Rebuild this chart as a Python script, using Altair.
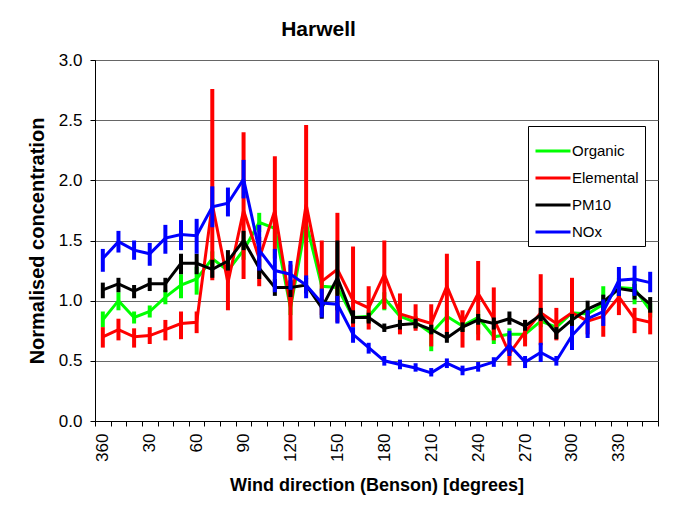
import altair as alt
import pandas as pd

FONT = "Liberation Sans"

directions = [360, 10, 20, 30, 40, 50, 60, 70, 80, 90, 100, 110, 120, 130, 140, 150, 160, 170,
              180, 190, 200, 210, 220, 230, 240, 250, 260, 270, 280, 290, 300, 310, 320, 330, 340, 350]

series_names = ["Organic", "Elemental", "PM10", "NOx"]
series_colors = ["#00FF00", "#FF0000", "#000000", "#0000FF"]

organic_mid = [0.84, 1.00, 0.86, 0.91, 1.03, 1.13, 1.18, 1.35, 1.25, 1.42, 1.65, 1.60, 0.94, 1.65, 1.12, 1.11, 0.86, 0.87,
               1.02, 0.87, 0.82, 0.73, 0.87, 0.79, 0.86, 0.70, 0.72, 0.72, 0.83, 0.78, 0.90, 0.89, 0.97, 1.11, 1.10, 0.92]
organic_lo = [0.78, 0.92, 0.81, 0.86, 0.97, 1.02, 1.05, 1.29, 1.17, 1.34, 1.57, 1.50, 0.88, 1.55, 1.06, 1.05, 0.81, 0.82,
              0.92, 0.82, 0.77, 0.58, 0.82, 0.74, 0.72, 0.64, 0.67, 0.67, 0.78, 0.73, 0.85, 0.84, 0.88, 1.03, 0.97, 0.86]
organic_hi = [0.91, 1.07, 0.91, 0.96, 1.09, 1.22, 1.28, 1.41, 1.32, 1.50, 1.73, 1.70, 1.00, 1.75, 1.18, 1.17, 0.91, 0.92,
              1.07, 0.92, 0.87, 0.80, 0.92, 0.84, 0.92, 0.76, 0.77, 0.77, 0.88, 0.83, 0.95, 0.94, 1.12, 1.19, 1.19, 0.98]

elemental_mid = [0.70, 0.76, 0.70, 0.71, 0.76, 0.81, 0.82, 1.80, 1.15, 1.75, 1.35, 1.75, 0.95, 1.80, 1.16, 1.26, 1.00, 0.94,
                 1.22, 0.89, 0.85, 0.81, 1.12, 0.81, 1.06, 0.85, 0.56, 0.74, 0.90, 0.81, 0.90, 0.83, 0.87, 1.03, 0.85, 0.82]
elemental_lo = [0.61, 0.67, 0.61, 0.64, 0.67, 0.68, 0.73, 1.17, 0.92, 1.18, 1.12, 1.35, 0.67, 1.18, 0.88, 0.82, 0.78, 0.76,
                0.93, 0.72, 0.75, 0.62, 0.69, 0.61, 0.67, 0.67, 0.46, 0.62, 0.63, 0.67, 0.62, 0.72, 0.70, 0.88, 0.73, 0.72]
elemental_hi = [0.78, 0.85, 0.77, 0.78, 0.84, 0.91, 0.91, 2.76, 1.33, 2.40, 1.53, 2.20, 1.30, 2.46, 1.50, 1.73, 1.45, 1.12,
                1.50, 1.06, 0.97, 0.97, 1.39, 0.92, 1.33, 1.11, 0.72, 0.84, 1.22, 0.94, 1.19, 0.89, 0.93, 1.12, 0.94, 0.92]

pm10_mid = [1.09, 1.14, 1.08, 1.14, 1.14, 1.31, 1.31, 1.26, 1.33, 1.50, 1.27, 1.11, 1.11, 1.13, 0.94, 1.19, 0.86, 0.86,
            0.77, 0.80, 0.81, 0.76, 0.69, 0.78, 0.84, 0.81, 0.85, 0.79, 0.88, 0.73, 0.84, 0.93, 0.99, 1.10, 1.08, 0.97]
pm10_lo = [1.02, 1.07, 1.02, 1.08, 1.07, 1.22, 1.22, 1.19, 1.25, 1.42, 1.18, 1.04, 1.03, 1.06, 0.85, 0.92, 0.81, 0.81,
           0.74, 0.76, 0.77, 0.72, 0.65, 0.74, 0.80, 0.76, 0.80, 0.75, 0.83, 0.68, 0.79, 0.84, 0.92, 1.04, 1.01, 0.90]
pm10_hi = [1.15, 1.19, 1.13, 1.19, 1.19, 1.39, 1.39, 1.34, 1.42, 1.58, 1.35, 1.18, 1.17, 1.19, 1.01, 1.50, 0.92, 0.90,
           0.81, 0.84, 0.85, 0.80, 0.74, 0.82, 0.89, 0.86, 0.91, 0.84, 0.94, 0.78, 0.89, 1.00, 1.05, 1.15, 1.14, 1.03]

nox_mid = [1.35, 1.49, 1.42, 1.39, 1.52, 1.55, 1.54, 1.78, 1.81, 2.01, 1.42, 1.25, 1.22, 1.13, 0.98, 0.97, 0.72, 0.61,
           0.50, 0.47, 0.44, 0.40, 0.48, 0.42, 0.45, 0.49, 0.63, 0.49, 0.57, 0.50, 0.71, 0.85, 0.91, 1.17, 1.18, 1.15]
nox_lo = [1.24, 1.40, 1.34, 1.29, 1.39, 1.42, 1.39, 1.61, 1.70, 1.85, 1.25, 1.07, 1.09, 1.02, 0.86, 0.81, 0.65, 0.56,
          0.46, 0.43, 0.41, 0.37, 0.44, 0.38, 0.41, 0.45, 0.54, 0.44, 0.49, 0.46, 0.59, 0.69, 0.79, 1.04, 1.04, 1.07]
nox_hi = [1.43, 1.58, 1.50, 1.48, 1.63, 1.67, 1.68, 1.95, 1.94, 2.17, 1.63, 1.43, 1.33, 1.21, 1.10, 1.04, 0.78, 0.65,
          0.54, 0.51, 0.48, 0.44, 0.52, 0.46, 0.49, 0.53, 0.75, 0.54, 0.65, 0.54, 0.79, 0.92, 1.01, 1.28, 1.29, 1.24]

y_ticks = [0.0, 0.5, 1.0, 1.5, 2.0, 2.5, 3.0]
shown_labels = [str(d) for d in directions[::3]]

series_data = {
    "Organic": (organic_mid, organic_lo, organic_hi),
    "Elemental": (elemental_mid, elemental_lo, elemental_hi),
    "PM10": (pm10_mid, pm10_lo, pm10_hi),
    "NOx": (nox_mid, nox_lo, nox_hi),
}

rows = []
for name in series_names:
    mid, lo, hi = series_data[name]
    for i, d in enumerate(directions):
        rows.append({"series": name, "idx": i, "pos": i + 0.5, "dir": d,
                     "mid": mid[i], "lo": lo[i], "hi": hi[i]})
df = pd.DataFrame(rows)

n = len(directions)
label_list = ",".join("'" + s + "'" for s in shown_labels)
label_expr = f"datum.value % 3 == 0 && datum.value < {n} ? [{label_list}][datum.value / 3] : ''"

x_enc = alt.X("pos:Q",
              scale=alt.Scale(domain=[0, n], nice=False, zero=False),
              axis=alt.Axis(values=list(range(n + 1)), labelExpr=label_expr, labelAngle=270,
                            labelAlign="right", labelBaseline="middle", labelOffset=7.8,
                            labelOverlap=False, labelFlush=False, labelPadding=7,
                            tickSize=5, grid=False,
                            title="Wind direction (Benson) [degrees]", titlePadding=15,
                            titleFontSize=18))

y_enc = alt.Y("mid:Q",
              scale=alt.Scale(domain=[0, 3], nice=False, zero=True),
              axis=alt.Axis(values=y_ticks, format=".1f", tickSize=5, labelPadding=8,
                            grid=True, gridColor="#666666", gridWidth=1,
                            title="Normalised concentration", titlePadding=11,
                            titleFontSize=20))

color_enc = alt.Color("series:N",
                      scale=alt.Scale(domain=series_names, range=series_colors),
                      legend=alt.Legend(title=None, orient="none", legendX=433, legendY=66,
                                        symbolType="stroke", symbolSize=1225, symbolStrokeWidth=3,
                                        labelFontSize=15, labelFont=FONT, labelColor="black",
                                        fillColor="white", strokeColor="black", padding=6,
                                        rowPadding=-7, labelOffset=0))

base = alt.Chart(df)
layers = []
for name in series_names:
    sub = base.transform_filter(alt.datum.series == name)
    layers.append(sub.mark_rule(strokeWidth=4).encode(
        x=x_enc, y=alt.Y("lo:Q", scale=alt.Scale(domain=[0, 3], nice=False)), y2="hi:Q", color=color_enc))
    layers.append(sub.mark_line(strokeWidth=3).encode(
        x=x_enc, y=y_enc, color=color_enc, order="idx:Q"))

chart = alt.layer(*layers).properties(
    width=563, height=361,
    autosize=alt.AutoSizeParams(type="none"),
    padding={"left": 87, "top": 52, "right": 33, "bottom": 86},
    background="white",
    title=alt.TitleParams(text="Harwell", fontSize=21, font=FONT, fontWeight="bold",
                          anchor="middle", dx=-58, offset=11, color="black"),
).configure_view(stroke="black", strokeWidth=1).configure_axis(
    labelFont=FONT, labelFontSize=17, labelColor="black",
    titleFont=FONT, titleFontWeight="bold", titleColor="black",
    domainColor="black", tickColor="black", domainWidth=1, tickWidth=1,
)

chart.save("out.html", embed_options={"renderer": "svg", "actions": False})
